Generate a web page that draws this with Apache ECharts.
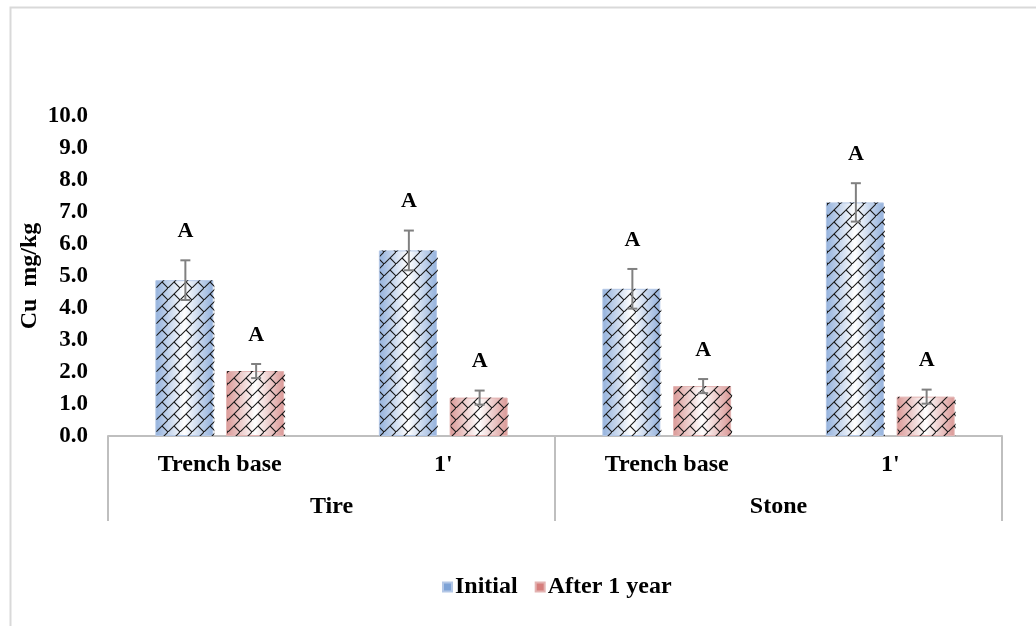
<!DOCTYPE html>
<html>
<head>
<meta charset="utf-8">
<script src="https://cdn.jsdelivr.net/npm/echarts@6/dist/echarts.min.js"></script>
<style>
html,body{margin:0;padding:0;background:#fff;}
#chart{width:1036px;height:626px;}
</style>
</head>
<body>
<div id="chart"></div>
<script>
// ---- data ----
const categories = ['Trench base', "1'", 'Trench base', "1'"];
const groups = ['Tire', 'Stone'];
const initialValues = [4.87, 5.8, 4.6, 7.3];
const initialErrors = [0.62, 0.62, 0.62, 0.6];
const afterValues = [2.03, 1.2, 1.56, 1.23];
const afterErrors = [0.22, 0.22, 0.22, 0.22];
const initialLetters = ['A', 'A', 'A', 'A'];
const afterLetters = ['A', 'A', 'A', 'A'];
const yTicks = [0, 1, 2, 3, 4, 5, 6, 7, 8, 9, 10];

// ---- styles ----
const FONT = 'Liberation Serif';
const FS = 24;
const BAR_W = 58;
const BAR_GAP = 0.22;
const blueEdge = '#93b1dc';
const redEdge = '#da9896';

function grad(edge) {
  return new echarts.graphic.LinearGradient(0, 0, 1, 0, [
    {offset: 0, color: edge},
    {offset: 0.5, color: '#ffffff'},
    {offset: 1, color: edge}
  ]);
}

// diagonal brick hatch pattern tile
function makePattern() {
  const s = 12;
  const c = document.createElement('canvas');
  c.width = s; c.height = s;
  const ctx = c.getContext('2d');
  ctx.strokeStyle = '#1a1a1a';
  ctx.lineWidth = 1.1;
  ctx.lineCap = 'square';
  ctx.beginPath();
  ctx.moveTo(-1, s + 1); ctx.lineTo(s + 1, -1);
  ctx.moveTo(s / 2, s / 2); ctx.lineTo(s, s);
  ctx.stroke();
  return c;
}
const patternCanvas = makePattern();

function overlaySeries(values, errors, letters, sideSign) {
  return {
    type: 'custom',
    name: 'overlay' + sideSign,
    silent: true,
    z: 5,
    data: values.map((v, i) => [i, v, errors[i]]),
    renderItem: function (params, api) {
      const idx = api.value(0);
      const val = api.value(1);
      const err = api.value(2);
      const base = api.coord([idx, 0]);
      const top = api.coord([idx, val]);
      const eTop = api.coord([idx, val + err]);
      const eBot = api.coord([idx, val - err]);
      const off = BAR_W * (1 + BAR_GAP) / 2 * sideSign + 1;
      const cx = base[0] + off;
      const cap = 5;
      const children = [
        {
          type: 'rect',
          shape: {x: cx - BAR_W / 2, y: top[1], width: BAR_W, height: base[1] - top[1]},
          style: {fill: {image: patternCanvas, repeat: 'repeat'}}
        },
        {
          type: 'line',
          shape: {x1: cx, y1: eTop[1], x2: cx, y2: eBot[1]},
          style: {stroke: '#808080', lineWidth: 2}
        },
        {
          type: 'line',
          shape: {x1: cx - cap, y1: eTop[1], x2: cx + cap, y2: eTop[1]},
          style: {stroke: '#808080', lineWidth: 2}
        },
        {
          type: 'line',
          shape: {x1: cx - cap, y1: eBot[1], x2: cx + cap, y2: eBot[1]},
          style: {stroke: '#808080', lineWidth: 2}
        },
        {
          type: 'text',
          style: {
            x: cx, y: eTop[1] - 29,
            text: letters[idx],
            fill: '#000',
            font: 'bold 22px "' + FONT + '"',
            align: 'center',
            verticalAlign: 'middle'
          }
        }
      ];
      return {type: 'group', children: children};
    }
  };
}

const chart = echarts.init(document.getElementById('chart'), null, {renderer: 'canvas'});
const option = {
  animation: false,
  backgroundColor: '#ffffff',
  textStyle: {fontFamily: FONT},
  graphic: [{
    type: 'rect',
    left: 8, top: 5,
    shape: {width: 1100, height: 700},
    style: {fill: 'none', stroke: '#d9d9d9', lineWidth: 2},
    silent: true
  }],
  grid: {left: 108, right: 34, top: 116, bottom: 190, containLabel: false},
  legend: {
    top: 570,
    left: 437,
    itemWidth: 9,
    itemHeight: 9,
    itemGap: 17,
    icon: 'rect',
    textStyle: {fontFamily: FONT, fontWeight: 'bold', fontSize: FS, color: '#000', padding: [0, 0, 0, -2]},
    data: [
      {name: 'Initial', itemStyle: {color: '#7ea3d6'}},
      {name: 'After 1 year', itemStyle: {color: '#d67e7c'}}
    ]
  },
  xAxis: [
    {
      type: 'category',
      data: categories,
      axisLine: {show: true, lineStyle: {color: '#bfbfbf', width: 2}},
      axisTick: {show: false},
      axisLabel: {margin: 17, fontFamily: FONT, fontWeight: 'bold', fontSize: FS, color: '#000', interval: 0}
    },
    {
      type: 'category',
      data: groups,
      position: 'bottom',
      axisLine: {show: false},
      axisTick: {show: true, length: 85, lineStyle: {color: '#bfbfbf', width: 2}},
      axisLabel: {margin: 59, fontFamily: FONT, fontWeight: 'bold', fontSize: FS, color: '#000'}
    }
  ],
  yAxis: {
    type: 'value',
    min: yTicks[0],
    max: yTicks[yTicks.length - 1],
    interval: 1,
    name: 'Cu  mg/kg',
    nameLocation: 'middle',
    nameGap: 66,
    nameMoveOverlap: false,
    nameRotate: 90,
    nameTextStyle: {fontFamily: FONT, fontWeight: 'bold', fontSize: FS, color: '#000'},
    axisLine: {show: false},
    axisTick: {show: false},
    splitLine: {show: false},
    axisLabel: {
      margin: 20,
      fontFamily: FONT, fontWeight: 'bold', fontSize: 23, color: '#000',
      formatter: v => v.toFixed(1)
    }
  },
  series: [
    {
      name: 'Initial',
      type: 'bar',
      barWidth: BAR_W,
      barGap: (BAR_GAP * 100) + '%',
      data: initialValues,
      itemStyle: {color: grad(blueEdge), borderColor: '#b3c7e6', borderWidth: 1}
    },
    {
      name: 'After 1 year',
      type: 'bar',
      barWidth: BAR_W,
      barGap: (BAR_GAP * 100) + '%',
      data: afterValues,
      itemStyle: {color: grad(redEdge), borderColor: '#e3b3b2', borderWidth: 1}
    },
    overlaySeries(initialValues, initialErrors, initialLetters, -1),
    overlaySeries(afterValues, afterErrors, afterLetters, 1)
  ]
};
chart.setOption(option);
</script>
</body>
</html>
